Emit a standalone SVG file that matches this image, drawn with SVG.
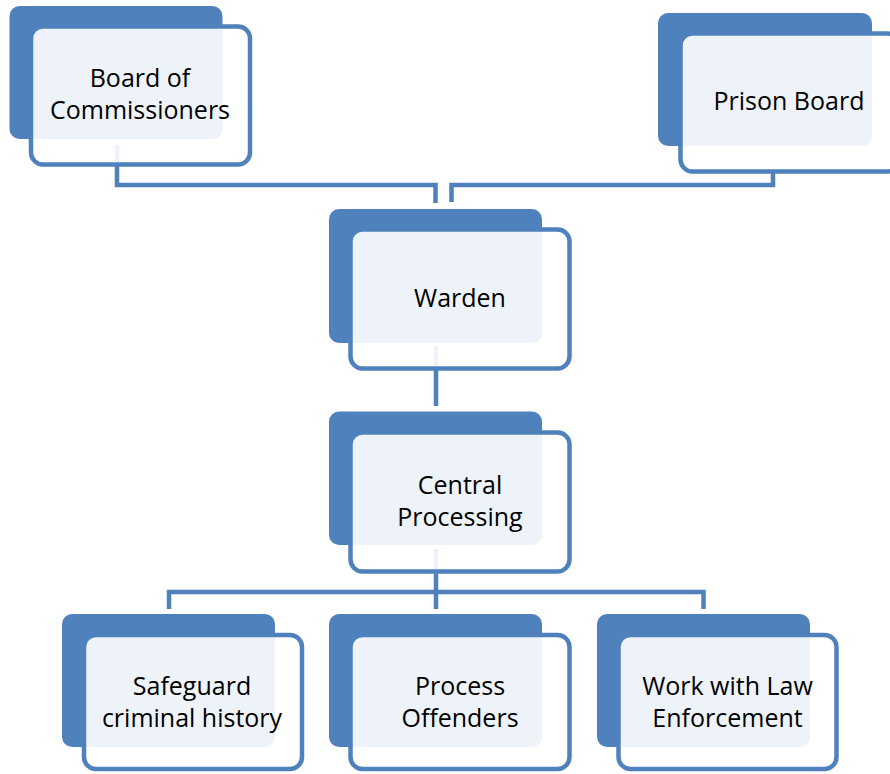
<svg xmlns="http://www.w3.org/2000/svg" width="890" height="774" viewBox="0 0 890 774">
<style>
.back{fill:#4F81BD}
.front{fill:#ffffff;fill-opacity:0.9;stroke:#4F81BD;stroke-width:4.5}
.lbl{font-family:"Open Sans","Noto Sans",sans-serif;font-size:25px;fill:#000;text-anchor:middle}
.conn{fill:none;stroke:#4F81BD;stroke-width:4.5;stroke-linejoin:miter;stroke-linecap:butt}
</style>
<rect width="890" height="774" fill="#fff"/>
<g id="connectors">
<path class="conn" d="M117,145 V185 H435.5 V203"/>
<path class="conn" d="M773,171 V185 H451.5 V202"/>
<path class="conn" d="M436,346 V406"/>
<path class="conn" d="M436,549 V609"/>
<path class="conn" d="M169,609 V592 H703.5 V609"/>
</g>
<g id="board">
<rect class="back" x="9.5" y="6" width="213" height="133" rx="10"/>
<rect class="front" x="31" y="26.5" width="219" height="138" rx="12"/>
<text class="lbl" x="140" y="87">Board of</text>
<text class="lbl" x="140" y="119">Commissioners</text>
</g>
<g id="prison">
<rect class="back" x="658" y="13" width="214" height="133" rx="10"/>
<rect class="front" x="680.5" y="33.5" width="219" height="138" rx="12"/>
<text class="lbl" x="789" y="110">Prison Board</text>
</g>
<g id="warden">
<rect class="back" x="329" y="209" width="213" height="134" rx="10"/>
<rect class="front" x="350.5" y="229.5" width="219" height="139" rx="12"/>
<text class="lbl" x="460" y="307">Warden</text>
</g>
<g id="central">
<rect class="back" x="329" y="411.5" width="213" height="133.5" rx="10"/>
<rect class="front" x="350.5" y="432.5" width="219" height="139" rx="12"/>
<text class="lbl" x="460" y="494">Central</text>
<text class="lbl" x="460" y="526">Processing</text>
</g>
<g id="safeguard">
<rect class="back" x="62" y="614" width="213" height="133" rx="10"/>
<rect class="front" x="84" y="635" width="218" height="134" rx="12"/>
<text class="lbl" x="192" y="695">Safeguard</text>
<text class="lbl" x="192" y="727">criminal history</text>
</g>
<g id="process">
<rect class="back" x="329" y="614" width="213" height="133" rx="10"/>
<rect class="front" x="350.5" y="635" width="219" height="134" rx="12"/>
<text class="lbl" x="460" y="695">Process</text>
<text class="lbl" x="460" y="727">Offenders</text>
</g>
<g id="work">
<rect class="back" x="597" y="614" width="213" height="133" rx="10"/>
<rect class="front" x="618.5" y="635" width="218" height="134" rx="12"/>
<text class="lbl" x="727.5" y="695">Work with Law</text>
<text class="lbl" x="727.5" y="727">Enforcement</text>
</g>
</svg>
